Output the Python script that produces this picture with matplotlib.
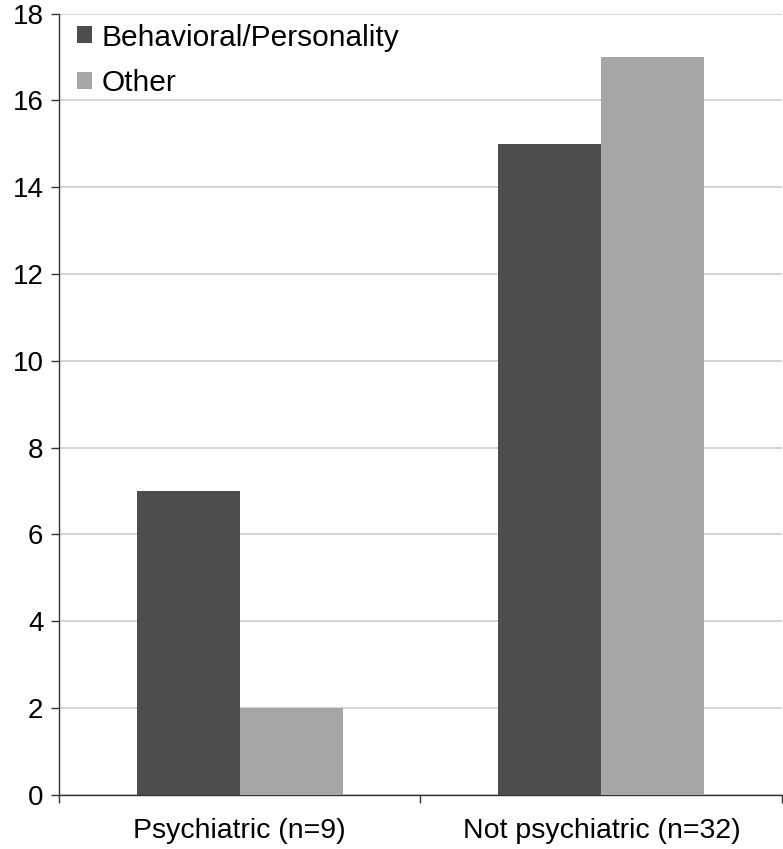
import matplotlib
matplotlib.use("Agg")
import matplotlib.pyplot as plt
import numpy as np

categories = ["Psychiatric (n=9)", "Not psychiatric (n=32)"]
behavioral = [7, 15]
other = [2, 17]
series_names = ["Behavioral/Personality", "Other"]
y_ticks = [0, 2, 4, 6, 8, 10, 12, 14, 16, 18]

COLOR_DARK = "#4d4d4d"
COLOR_LIGHT = "#a6a6a6"

plt.rcParams["font.family"] = ["Liberation Sans", "DejaVu Sans"]

fig = plt.figure(figsize=(7.83, 8.49), dpi=100)
ax = fig.add_axes([0.075, 0.064, 0.924, 0.92])

centers = np.arange(len(categories)) + 0.5
w = 0.285
ax.bar(centers - w / 2, behavioral, width=w, color=COLOR_DARK, label=series_names[0], zorder=3)
ax.bar(centers + w / 2, other, width=w, color=COLOR_LIGHT, label=series_names[1], zorder=3)

ax.set_xlim(0, len(categories))
ax.set_ylim(0, 18)
ax.set_yticks(y_ticks)
ax.set_yticklabels([str(t) for t in y_ticks], fontsize=20)
ax.yaxis.grid(True, color="#cccccc", linewidth=1.2, zorder=0)

# category boundary ticks, labels centered between them
ax.set_xticks(np.arange(len(categories) + 1))
ax.set_xticklabels([""] * (len(categories) + 1))
ax.set_xticks(centers, minor=True)
ax.set_xticklabels(categories, minor=True, fontsize=20.5)
ax.tick_params(axis="x", which="minor", length=0, pad=17)
ax.tick_params(axis="x", which="major", length=6, width=1, color="#333333", direction="out")
ax.tick_params(axis="y", length=6, width=1, color="#333333", direction="out", pad=5)

for s in ["top", "right"]:
    ax.spines[s].set_visible(False)
ax.spines["left"].set_color("#333333")
ax.spines["bottom"].set_color("#333333")
ax.spines["left"].set_linewidth(1)
ax.spines["bottom"].set_linewidth(1)

ax.legend(loc="upper left", frameon=False, fontsize=21.5, handlelength=0.5, handleheight=0.5,
          handletextpad=0.3, labelspacing=0.6, borderaxespad=0.3,
          bbox_to_anchor=(-0.003, 1.014))

fig.savefig("out.png", dpi=100)
